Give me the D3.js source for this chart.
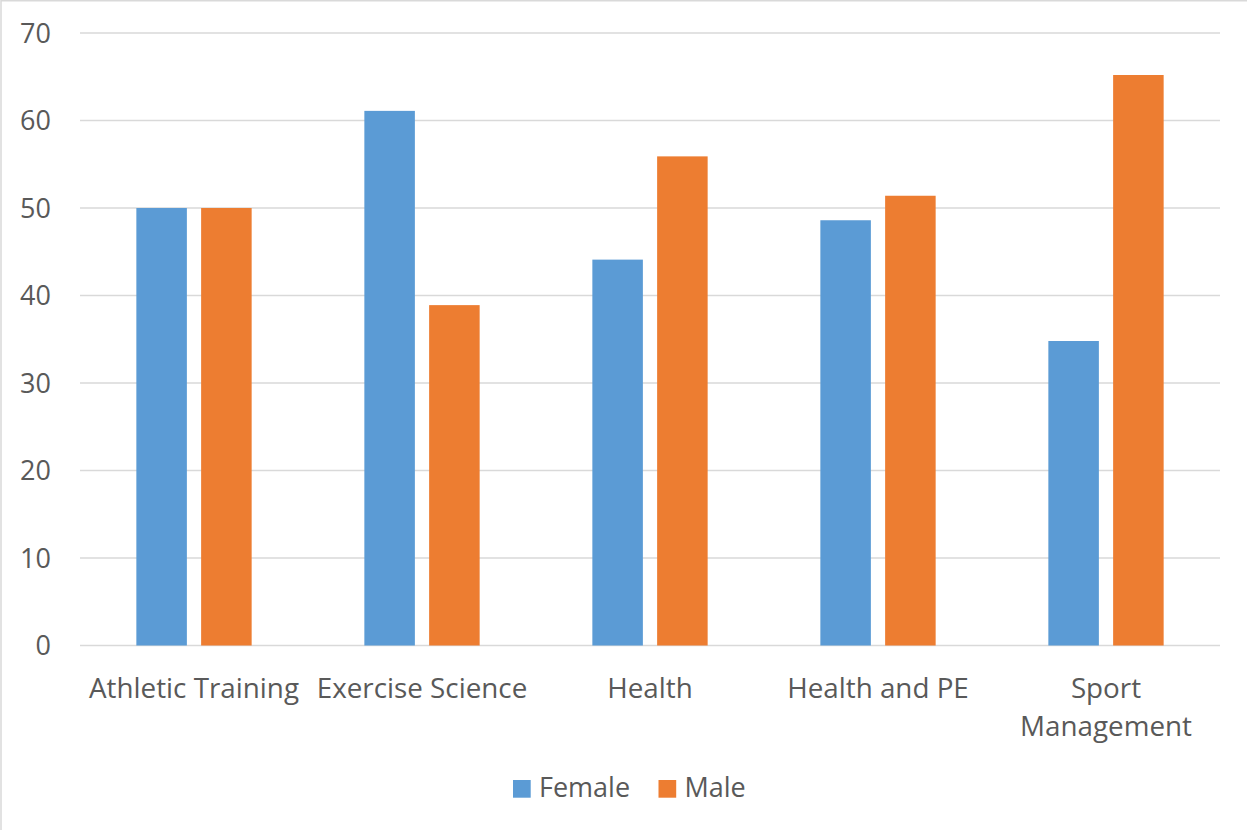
<!DOCTYPE html>
<html>
<head>
<meta charset="utf-8">
<script src="https://cdn.jsdelivr.net/npm/d3@7/dist/d3.min.js"></script>
<style>
  html, body { margin: 0; padding: 0; background: #fff; }
  svg { display: block; }
  text { font-family: "Open Sans", "Noto Sans", sans-serif; fill: #595959; }
</style>
</head>
<body>
<svg id="chart" width="1247" height="830"></svg>
<script>
// Share of students by gender in each program (percent)
const categories = ["Athletic Training", "Exercise Science", "Health", "Health and PE", "Sport Management"];
const seriesNames = ["Female", "Male"];
const female = [50, 61.1, 44.1, 48.6, 34.8];
const male = [50, 38.9, 55.9, 51.4, 65.2];
const yTicks = [0, 10, 20, 30, 40, 50, 60, 70];
const colors = ["#5B9BD5", "#ED7D31"];

const W = 1247, H = 830;
const plot = { left: 80, right: 1220, top: 33, bottom: 645.5 };

const svg = d3.select("#chart");

// chart-area frame
svg.append("rect")
  .attr("x", 1).attr("y", 0.75)
  .attr("width", W + 10).attr("height", H + 10)
  .attr("fill", "none").attr("stroke", "#d9d9d9").attr("stroke-width", 1.5);

const x = d3.scaleBand().domain(categories).range([plot.left, plot.right]).padding(0);
const xInner = d3.scaleBand().domain(seriesNames).range([0, x.bandwidth()])
  .paddingInner(0.22).paddingOuter(0.87);
const y = d3.scaleLinear().domain([0, 70]).range([plot.bottom, plot.top]);

// horizontal gridlines
svg.append("g")
  .selectAll("line")
  .data(yTicks)
  .join("line")
  .attr("x1", plot.left).attr("x2", plot.right)
  .attr("y1", d => y(d)).attr("y2", d => y(d))
  .attr("stroke", "#d9d9d9").attr("stroke-width", 1.5);

// y tick labels
svg.append("g")
  .selectAll("text")
  .data(yTicks)
  .join("text")
  .attr("x", 51).attr("y", d => y(d))
  .attr("dy", "0.36em")
  .attr("text-anchor", "end")
  .attr("font-size", 27)
  .text(d => d);

// bars
const rows = categories.map((c, i) => ({ cat: c, values: [female[i], male[i]] }));
const groups = svg.append("g")
  .selectAll("g")
  .data(rows)
  .join("g")
  .attr("transform", d => `translate(${x(d.cat)},0)`);

groups.selectAll("rect")
  .data(d => d.values.map((v, j) => ({ name: seriesNames[j], value: v, color: colors[j] })))
  .join("rect")
  .attr("x", d => xInner(d.name))
  .attr("width", xInner.bandwidth())
  .attr("y", d => y(d.value))
  .attr("height", d => y(0) - y(d.value))
  .attr("fill", d => d.color);

// category labels (wrapped when wider than the band)
const labelLines = {
  "Sport Management": ["Sport", "Management"]
};
const catLabels = svg.append("g")
  .selectAll("text")
  .data(categories)
  .join("text")
  .attr("x", d => x(d) + x.bandwidth() / 2)
  .attr("y", 697.5)
  .attr("text-anchor", "middle")
  .attr("font-size", 27.8);
catLabels.each(function(d) {
  const lines = labelLines[d] || [d];
  const t = d3.select(this);
  lines.forEach((ln, k) => {
    t.append("tspan")
      .attr("x", x(d) + x.bandwidth() / 2)
      .attr("dy", k === 0 ? 0 : 38.5)
      .text(ln);
  });
});

// legend
const legendItems = [
  { name: seriesNames[0], color: colors[0], x: 513 },
  { name: seriesNames[1], color: colors[1], x: 658.5 }
];
const legend = svg.append("g")
  .selectAll("g")
  .data(legendItems)
  .join("g")
  .attr("transform", d => `translate(${d.x},780)`);
legend.append("rect")
  .attr("width", 17.7).attr("height", 17.7)
  .attr("fill", d => d.color);
legend.append("text")
  .attr("x", 26).attr("y", 17)
  .attr("font-size", 27)
  .text(d => d.name);
</script>
</body>
</html>
